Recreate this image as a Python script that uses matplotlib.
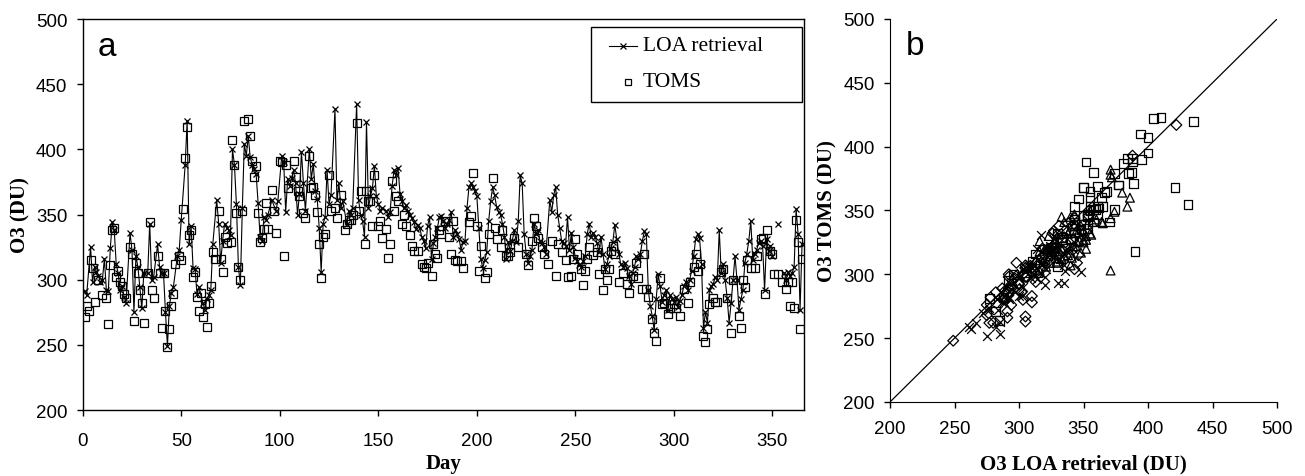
import numpy as np
import matplotlib
matplotlib.use("Agg")
import matplotlib.pyplot as plt
from matplotlib.patches import Rectangle

# ---------------- data ----------------
loa_days = [1, 2, 4, 5, 6, 7, 8, 9, 10, 11, 12, 13, 14, 15, 16, 17, 18, 19, 20, 21, 22, 24, 25, 26, 27, 28, 29, 30,
            31, 33, 34, 35, 36, 38, 39, 40, 41, 42, 43, 44, 45, 46, 48, 49, 50, 52, 53, 54, 55, 56, 57, 58, 59,
            61, 62, 63, 64, 65, 66, 68, 69, 70, 71, 72, 73, 74, 75, 76, 77, 78, 79, 80, 81, 82, 83, 84, 85, 86,
            87, 88, 89, 90, 91, 92, 93, 94, 96, 98, 99, 101, 102, 103, 104, 105, 106, 107, 108, 109, 110, 111,
            112, 113, 115, 116, 117, 118, 119, 120, 121, 122, 123, 124, 125, 126, 128, 129, 130, 131, 132, 134,
            135, 136, 137, 139, 140, 141, 142, 143, 144, 145, 146, 147, 148, 149, 150, 151, 152, 154, 155, 156,
            157, 158, 159, 160, 161, 162, 163, 164, 165, 166, 167, 168, 169, 170, 171, 172, 173, 174, 175, 176,
            177, 178, 179, 180, 181, 182, 183, 184, 185, 186, 187, 188, 189, 190, 191, 192, 193, 194, 195, 196,
            197, 198, 199, 200, 201, 202, 203, 204, 205, 206, 207, 208, 209, 210, 211, 212, 213, 214, 215, 216,
            217, 218, 219, 220, 221, 222, 223, 224, 225, 226, 227, 228, 229, 230, 231, 232, 233, 234, 235, 237,
            238, 239, 240, 241, 242, 243, 244, 245, 246, 247, 248, 249, 250, 251, 252, 253, 254, 255, 256, 257,
            258, 259, 260, 261, 262, 263, 264, 265, 266, 267, 268, 269, 270, 271, 272, 273, 274, 275, 276, 277,
            278, 279, 280, 281, 282, 283, 284, 285, 286, 287, 288, 289, 290, 291, 292, 293, 294, 295, 296, 297,
            298, 299, 300, 301, 302, 303, 304, 305, 306, 307, 308, 309, 310, 311, 312, 313, 314, 315, 316, 317,
            318, 319, 320, 321, 322, 323, 324, 325, 326, 327, 328, 329, 330, 331, 332, 333, 334, 335, 336, 337,
            338, 339, 340, 341, 342, 343, 344, 345, 346, 347, 348, 349, 350, 352, 353, 354, 356, 357, 358, 359,
            360, 361, 362, 363, 364, 365]
loa_o3 = [291, 288, 325, 298, 310, 306, 303, 298, 300, 316, 292, 291, 324, 344, 338, 312, 305, 292, 295, 287, 282,
          336, 323, 275, 318, 310, 294, 278, 305, 305, 343, 300, 302, 327, 310, 305, 305, 275, 249, 280, 290, 294,
          318, 323, 346, 388, 422, 327, 341, 309, 308, 289, 294, 282, 277, 285, 288, 292, 327, 361, 343, 313, 330,
          343, 340, 338, 334, 400, 388, 358, 310, 296, 355, 404, 395, 410, 394, 388, 385, 381, 359, 333, 330, 348,
          346, 350, 361, 353, 360, 395, 390, 352, 377, 372, 378, 384, 374, 350, 366, 398, 374, 353, 400, 377, 389,
          368, 362, 340, 306, 343, 348, 384, 358, 365, 431, 361, 374, 355, 360, 343, 353, 350, 355, 435, 361, 350,
          345, 333, 421, 355, 364, 370, 387, 364, 358, 353, 355, 353, 348, 352, 372, 384, 380, 386, 366, 360, 355,
          357, 353, 350, 347, 344, 339, 342, 340, 333, 330, 324, 341, 348, 316, 328, 333, 340, 348, 349, 345, 340,
          343, 346, 352, 333, 338, 335, 331, 323, 329, 330, 355, 371, 374, 371, 368, 364, 340, 316, 309, 315, 321,
          345, 360, 371, 365, 356, 352, 350, 343, 333, 316, 329, 322, 330, 338, 329, 345, 380, 374, 335, 320, 313,
          318, 323, 343, 335, 338, 330, 328, 325, 320, 361, 352, 365, 371, 350, 340, 330, 328, 326, 348, 323, 336,
          325, 317, 314, 311, 310, 314, 318, 335, 343, 333, 336, 333, 328, 321, 333, 320, 308, 312, 318, 324, 329,
          342, 331, 320, 312, 310, 313, 309, 303, 297, 305, 310, 318, 316, 320, 330, 337, 335, 292, 280, 272, 261,
          285, 304, 295, 283, 288, 292, 277, 288, 285, 283, 287, 279, 284, 288, 295, 298, 292, 300, 307, 318, 331,
          335, 332, 312, 263, 275, 267, 292, 295, 297, 302, 300, 338, 305, 312, 300, 286, 267, 282, 300, 318, 300,
          277, 285, 292, 313, 320, 330, 345, 315, 320, 323, 328, 330, 326, 292, 331, 322, 326, 318, np.nan, 343,
          np.nan, 305, 300, 306, 303, 305, 310, 354, 335, 277, 327]

toms_days = [1, 2, 3, 4, 5, 6, 8, 10, 12, 13, 14, 15, 16, 17, 18, 19, 20, 21, 22, 24, 25, 26, 27, 28, 29, 30, 31,
             33, 34, 35, 36, 38, 39, 40, 41, 42, 43, 44, 45, 46, 47, 49, 50, 51, 52, 53, 54, 55, 56, 57, 58, 59,
             60, 61, 62, 63, 64, 65, 66, 67, 69, 70, 71, 72, 73, 75, 76, 77, 78, 79, 80, 81, 82, 84, 85, 86, 87,
             88, 89, 90, 91, 92, 93, 94, 96, 97, 98, 100, 101, 102, 103, 104, 107, 108, 109, 110, 112, 113, 115,
             116, 117, 118, 119, 120, 121, 122, 123, 125, 126, 128, 129, 131, 133, 134, 135, 136, 137, 139, 140,
             141, 143, 144, 145, 146, 147, 148, 150, 151, 152, 154, 155, 156, 157, 158, 159, 160, 162, 163, 164,
             166, 167, 168, 170, 172, 173, 174, 175, 177, 178, 179, 180, 181, 182, 184, 186, 187, 188, 189, 190,
             192, 193, 196, 197, 198, 200, 201, 202, 204, 205, 206, 208, 209, 210, 212, 213, 215, 216, 217, 219,
             221, 225, 226, 228, 229, 230, 231, 233, 234, 236, 238, 240, 241, 243, 245, 246, 248, 249, 250, 251,
             253, 254, 255, 256, 257, 259, 261, 262, 264, 265, 266, 267, 268, 269, 270, 272, 274, 276, 277, 279,
             281, 282, 284, 285, 286, 287, 289, 290, 291, 293, 294, 295, 297, 298, 300, 301, 303, 305, 307, 308,
             310, 311, 312, 313, 315, 316, 317, 318, 320, 321, 322, 324, 325, 327, 329, 330, 333, 334, 335, 336,
             337, 339, 341, 342, 344, 345, 346, 347, 349, 350, 351, 353, 355, 357, 358, 359, 360, 361, 362, 363,
             364, 365]
toms_o3 = [271, 280, 276, 315, 309, 283, 300, 288, 286, 266, 311, 338, 340, 302, 307, 298, 295, 289, 286, 325, 320,
           268, 313, 305, 292, 282, 267, 305, 344, 292, 286, 318, 305, 263, 305, 276, 248, 262, 280, 289, 312, 318,
           315, 354, 393, 417, 334, 338, 302, 306, 287, 276, 290, 271, 281, 264, 282, 295, 321, 316, 353, 316, 306,
           333, 328, 329, 407, 388, 351, 310, 300, 353, 422, 423, 410, 391, 379, 387, 351, 329, 332, 339, 359, 339,
           369, 353, 336, 391, 390, 318, 388, 370, 391, 379, 368, 364, 351, 347, 395, 370, 371, 365, 352, 327, 301,
           333, 335, 380, 353, 355, 347, 365, 338, 343, 346, 346, 350, 420, 353, 368, 327, 368, 360, 360, 341, 380,
           341, 345, 332, 339, 317, 327, 376, 353, 364, 360, 343, 350, 341, 334, 326, 322, 322, 312, 310, 309, 313,
           303, 327, 320, 317, 338, 335, 345, 333, 320, 345, 315, 314, 314, 309, 344, 349, 382, 341, 307, 326, 301,
           306, 335, 378, 340, 331, 325, 338, 318, 318, 321, 332, 325, 320, 311, 330, 347, 341, 332, 325, 320, 312,
           330, 303, 327, 321, 315, 302, 303, 316, 331, 320, 308, 296, 307, 316, 325, 319, 321, 304, 292, 308, 300,
           308, 322, 326, 320, 298, 305, 297, 290, 303, 313, 301, 293, 320, 293, 287, 270, 259, 253, 301, 281, 282,
           274, 278, 281, 278, 272, 293, 282, 298, 310, 320, 307, 312, 257, 252, 262, 281, 286, 283, 283, 306, 308,
           286, 259, 300, 272, 263, 300, 294, 315, 309, 309, 318, 331, 332, 289, 338, 322, 320, 304, 304, 298, 293,
           298, 280, 298, 278, 346, 329, 262, 316]

# seasons for panel b (first day of winter, spring, summer, autumn)
season_markers = ["D", "s", "^", "x"]
season_start = [335, 60, 152, 244]

x_ticks_a = [0, 50, 100, 150, 200, 250, 300, 350]
y_ticks = [200, 250, 300, 350, 400, 450, 500]
legend_labels = ["LOA retrieval", "TOMS"]

# ---------------- figure ----------------
W, H = 1305, 477
fig = plt.figure(figsize=(W / 100, H / 100), dpi=100)
serif = ["Liberation Serif", "DejaVu Serif"]
sans = ["Liberation Sans", "DejaVu Sans"]

# Panel a
ax = fig.add_axes([82.7 / W, 1 - 411 / H, (804 - 82.7) / W, (411 - 20) / H])
ax.plot(loa_days, loa_o3, color="black", lw=0.8, marker="x", ms=5, mew=0.9, zorder=3)
ax.plot(toms_days, toms_o3, ls="none", marker="s", ms=5.5, mfc="none", mec="black", mew=0.9, zorder=2)
ax.set_xlim(0, 366)
ax.set_ylim(200, 500)
ax.set_xticks(x_ticks_a)
ax.set_yticks(y_ticks)
ax.tick_params(direction="out", length=4, width=1, labelsize=13.5)
ax.tick_params(axis="x", pad=12)
ax.tick_params(axis="y", pad=7)
for lab in ax.get_xticklabels() + ax.get_yticklabels():
    lab.set_family(sans)
for s in ax.spines.values():
    s.set_linewidth(1.0)
ax.set_xlabel("Day", fontsize=15, fontweight="bold", family=serif, labelpad=3)
ax.set_ylabel("O3 (DU)", fontsize=15, fontweight="bold", family=serif, labelpad=4)
ax.text(0.02, 0.93, "a", transform=ax.transAxes, fontsize=24, family=sans, va="center", ha="left")

# legend box (Excel-style, drawn in axes coordinates)
ax.add_patch(Rectangle((0.7047, 0.7877), 0.2931, 0.1918, transform=ax.transAxes,
                       facecolor="white", edgecolor="black", lw=1.0, zorder=5))
ax.plot([0.7297, 0.7685], [0.931, 0.931], transform=ax.transAxes, color="black", lw=0.8, zorder=6)
ax.plot([0.7491], [0.931], transform=ax.transAxes, marker="x", ms=4.5, mew=0.9, color="black", zorder=6)
ax.plot([0.7560], [0.8389], transform=ax.transAxes, marker="s", ms=4.5, mfc="none", mec="black",
        mew=0.9, zorder=6)
for lbl, yy in zip(legend_labels, [0.931, 0.8389]):
    ax.text(0.7768, yy, lbl, transform=ax.transAxes, family=serif, fontsize=15.5,
            va="center", ha="left", zorder=7)

# Panel b
bx = fig.add_axes([890 / W, 1 - 403 / H, (1277 - 890) / W, (403 - 20) / H])
toms_lookup = dict(zip(toms_days, toms_o3))
pairs = [(d, l, toms_lookup[d]) for d, l in zip(loa_days, loa_o3)
         if d in toms_lookup and not np.isnan(l)]


def season_of(d):
    if d >= season_start[0] or d < season_start[1]:
        return 0
    if d < season_start[2]:
        return 1
    if d < season_start[3]:
        return 2
    return 3


for k, m in enumerate(season_markers):
    xs = [l for d, l, t in pairs if season_of(d) == k]
    ys = [t for d, l, t in pairs if season_of(d) == k]
    if m == "x":
        bx.scatter(xs, ys, marker=m, s=40, color="black", linewidths=0.9, zorder=3)
    else:
        bx.scatter(xs, ys, marker=m, s=40 if m != "D" else 30, facecolors="none",
                   edgecolors="black", linewidths=0.9, zorder=3)
bx.plot([200, 500], [200, 500], color="black", lw=0.9, zorder=2)
bx.set_xlim(200, 500)
bx.set_ylim(200, 500)
bx.set_xticks(y_ticks)
bx.set_yticks(y_ticks)
bx.spines["top"].set_visible(False)
bx.spines["right"].set_visible(False)
bx.tick_params(direction="out", length=4, width=1, labelsize=13.5)
bx.tick_params(axis="x", pad=9)
bx.tick_params(axis="y", pad=7)
for lab in bx.get_xticklabels() + bx.get_yticklabels():
    lab.set_family(sans)
bx.set_xlabel("O3 LOA retrieval (DU)", fontsize=15, fontweight="bold", family=serif, labelpad=12)
bx.set_ylabel("O3 TOMS (DU)", fontsize=15, fontweight="bold", family=serif, labelpad=4)
bx.text(0.04, 0.93, "b", transform=bx.transAxes, fontsize=24, family=sans, va="center", ha="left")

fig.savefig("out.png", dpi=100)
